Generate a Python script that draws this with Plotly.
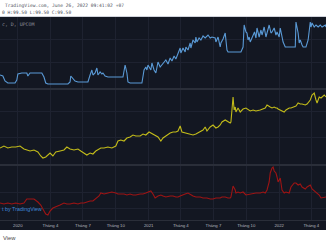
import plotly.graph_objects as go

# ---------------- data ----------------
blue_dates = ["2019-11-12","2019-11-20","2019-11-26","2019-12-04","2019-12-24","2019-12-29","2020-01-01","2020-01-12",
 "2020-01-26","2020-01-29","2020-02-04","2020-02-23","2020-03-08","2020-03-11","2020-03-14","2020-03-19","2020-03-25",
 "2020-05-20","2020-05-26","2020-05-28","2020-06-03","2020-06-09","2020-06-17","2020-07-15","2020-07-21","2020-07-26",
 "2020-07-29","2020-08-04","2020-08-09","2020-08-12","2020-08-18","2020-08-23","2020-08-26","2020-09-01","2020-09-09",
 "2020-10-21","2020-10-27","2020-11-01","2020-11-04","2020-11-10","2020-12-13","2020-12-16","2020-12-19","2020-12-24",
 "2020-12-27","2020-12-30","2021-01-07","2021-01-10","2021-01-16","2021-01-21","2021-01-24","2021-01-27","2021-02-02",
 "2021-02-10","2021-02-18","2021-02-24","2021-03-02","2021-03-07","2021-03-13","2021-03-18","2021-03-24","2021-03-27",
 "2021-03-30","2021-04-01","2021-04-07","2021-04-13","2021-04-15","2021-04-21","2021-04-27","2021-04-29","2021-05-05",
 "2021-05-11","2021-05-13","2021-05-16","2021-05-22","2021-05-27","2021-06-02","2021-06-08","2021-06-16","2021-06-22",
 "2021-06-27","2021-07-06","2021-07-08","2021-07-14","2021-07-20","2021-07-22","2021-07-28","2021-08-03","2021-08-05",
 "2021-08-08","2021-08-11","2021-09-16","2021-09-22","2021-09-25","2021-09-30","2021-10-03","2021-10-06","2021-10-09",
 "2021-10-12","2021-10-18","2021-10-24","2021-10-28","2021-10-31","2021-11-06","2021-11-11","2021-11-14","2021-11-20",
 "2021-11-25","2021-11-28","2021-12-04","2021-12-09","2021-12-12","2021-12-18","2021-12-23","2021-12-26","2022-01-01",
 "2022-01-04","2022-01-09","2022-01-12","2022-01-18","2022-02-15","2022-02-17","2022-02-23","2022-02-26","2022-03-01",
 "2022-03-06","2022-03-09","2022-03-17","2022-03-23","2022-03-29","2022-03-31","2022-04-03","2022-04-09","2022-04-14",
 "2022-04-20","2022-04-26","2022-05-01","2022-05-10","2022-05-12"]
blue_values = [13,12,7,5,5,8,14,15,
 15,12,15,15,15,13,11,5,4,
 4,6,12,10,7,6,6,13,18,
 13,15,20,13,16,14,15,12,11,
 11,23,15,6,5,5,10,18,21,
 18,23,18,25,18,15,21,26,21,
 25,28,24,30,27,32,29,34,36,
 40,35,40,36,41,38,45,40,48,
 45,51,46,50,48,52,50,53,50,
 51,50,46,51,41,45,49,55,46,
 38,36,36,41,63,56,55,48,51,
 46,51,56,50,60,51,58,53,61,
 51,56,63,55,56,60,53,56,51,
 60,50,46,41,41,66,55,45,48,
 43,41,41,48,66,61,65,61,63,
 61,63,61,63,61]

ry_dates = ["2019-11-12","2019-11-23","2019-12-04","2019-12-15","2019-12-26","2020-01-07","2020-01-18","2020-01-26",
 "2020-02-04","2020-02-15","2020-02-26","2020-03-05","2020-03-11","2020-03-19","2020-03-25","2020-03-31","2020-04-08",
 "2020-04-16","2020-04-28","2020-05-09","2020-05-17","2020-05-26","2020-06-06","2020-06-17","2020-06-25","2020-07-04",
 "2020-07-12","2020-07-21","2020-07-29","2020-08-06","2020-08-15","2020-08-20","2020-08-29","2020-09-09","2020-09-20",
 "2020-10-01","2020-10-07","2020-10-15","2020-10-24","2020-11-01","2020-11-10","2020-11-18","2020-11-26","2020-12-08",
 "2020-12-16","2020-12-24","2021-01-02","2021-01-07","2021-01-13","2021-01-19","2021-01-27","2021-02-04","2021-02-10",
 "2021-02-18","2021-03-02","2021-03-10","2021-03-18","2021-03-24","2021-03-30","2021-04-04","2021-04-13","2021-04-21",
 "2021-04-29","2021-05-05","2021-05-13","2021-05-25","2021-06-02","2021-06-08","2021-06-13","2021-06-22","2021-06-30",
 "2021-07-08","2021-07-14","2021-07-20","2021-07-25","2021-08-03","2021-08-11","2021-08-17","2021-08-19","2021-08-25",
 "2021-08-28","2021-08-31","2021-09-02","2021-09-08","2021-09-14","2021-09-22","2021-09-30","2021-10-12","2021-10-20",
 "2021-10-28","2021-11-09","2021-11-17","2021-11-23","2021-11-28","2021-12-04","2021-12-07","2021-12-12","2021-12-15",
 "2021-12-18","2021-12-23","2021-12-26","2021-12-29","2022-01-04","2022-01-06","2022-01-09","2022-01-15","2022-01-20",
 "2022-01-29","2022-02-03","2022-02-12","2022-02-17","2022-02-23","2022-03-01","2022-03-06","2022-03-15","2022-03-20",
 "2022-03-29","2022-04-03","2022-04-09","2022-04-14","2022-04-17","2022-04-23","2022-04-28","2022-05-07","2022-05-12"]
yellow_values = [16,18,16,17,17,18,15,14,
 13,14,12,8,6,7,9,11,8,
 12,13,14,17,15,14,15,13,11,
 9,11,10,13,15,16,16,17,16,
 18,23,24,23,26,27,29,28,28,
 30,29,32,31,30,29,27,23,26,
 28,31,32,32,33,38,32,31,30,
 29,29,30,32,34,37,33,37,39,
 36,37,39,42,44,42,41,42,67,
 54,57,52,56,52,55,56,53,54,
 53,54,55,56,59,57,57,56,57,
 57,56,56,55,54,54,53,52,54,
 56,56,57,58,61,60,60,59,60,
 64,69,71,64,61,67,66,69,67]
red_values = [17,16,17,16,17,16,17,21,
 21,21,18,15,11,6,5,9,12,
 13,15,17,16,16,17,16,17,17,
 18,19,19,21,24,27,26,27,28,
 27,26,26,26,25,26,25,25,26,
 26,27,28,29,26,22,24,25,24,
 23,24,24,23,23,24,25,26,27,
 25,24,23,23,22,22,22,21,21,
 22,22,22,23,23,22,22,23,34,
 32,30,27,28,27,28,25,26,27,
 27,27,28,27,30,38,47,52,53,
 49,47,43,38,42,35,30,27,28,
 27,33,37,37,35,36,33,31,33,
 35,31,29,28,27,25,22,23,23]

tick_dates = ["2020-01-01","2020-04-01","2020-07-01","2020-10-01","2021-01-01",
              "2021-04-01","2021-07-01","2021-10-01","2022-01-01","2022-04-01"]
tick_text = ["2020","Tháng 4","Tháng 7","Tháng 10","2021",
             "Tháng 4","Tháng 7","Tháng 10","2022","Tháng 4"]

# ---------------- figure ----------------
W, H = 326, 245
BG = "#131722"
GRID = "#1e2230"
SEP = "#2a2e39"

def py(p):  # pixel row -> paper fraction
    return 1 - p / H

fig = go.Figure()
fig.add_trace(go.Scatter(x=blue_dates, y=blue_values, mode="lines",
                         line=dict(color="#5a9ad6", width=1.1), xaxis="x", yaxis="y"))
fig.add_trace(go.Scatter(x=ry_dates, y=yellow_values, mode="lines",
                         line=dict(color="#c2bb1a", width=1.1), xaxis="x", yaxis="y2"))
fig.add_trace(go.Scatter(x=ry_dates, y=red_values, mode="lines",
                         line=dict(color="#9e1414", width=1.1), xaxis="x", yaxis="y3"))

yax_common = dict(showticklabels=False, zeroline=False, showline=False, ticks="",
                  showgrid=True, gridcolor=GRID, gridwidth=1, fixedrange=True)

fig.update_layout(
    width=W, height=H, margin=dict(l=0, r=0, t=0, b=0),
    paper_bgcolor="white", plot_bgcolor=BG, showlegend=False,
    xaxis=dict(domain=[0, 1], anchor="y3", type="date",
               range=["2019-11-12", "2022-05-12"],
               tickvals=tick_dates, ticktext=tick_text,
               tickfont=dict(size=4.3, color="#b2b5be", family="Liberation Sans"),
               showgrid=True, gridcolor=GRID, gridwidth=1,
               zeroline=False, showline=False, ticks="", ticklabelstandoff=2),
    yaxis=dict(domain=[py(88), py(17)], range=[0, 71], tickvals=[26, 49], **yax_common),
    yaxis2=dict(domain=[py(164), py(90)], range=[0, 74], tickvals=[27, 53], **yax_common),
    yaxis3=dict(domain=[py(220), py(166)], range=[0, 54], tickvals=[12, 28], **yax_common),
    shapes=[
        dict(type="rect", xref="paper", yref="paper", x0=0, x1=1, y0=py(230), y1=py(17),
             fillcolor=BG, line=dict(width=0), layer="below"),
        dict(type="rect", xref="paper", yref="paper", x0=0, x1=1, y0=py(90), y1=py(88),
             fillcolor=SEP, line=dict(width=0), layer="below"),
        dict(type="rect", xref="paper", yref="paper", x0=0, x1=1, y0=py(166), y1=py(164),
             fillcolor=SEP, line=dict(width=0), layer="below"),
        dict(type="line", xref="paper", yref="paper", x0=0, x1=1, y0=py(220.5), y1=py(220.5),
             line=dict(color=SEP, width=1), layer="above"),
        dict(type="line", xref="paper", yref="paper", x0=0, x1=1, y0=py(16.5), y1=py(16.5),
             line=dict(color="#d1d4dc", width=1), layer="above"),
    ],
)

mono = "DejaVu Sans Mono"
ann = [
    dict(text="TradingView.com, June 26, 2022 09:41:02 +07", x=3 / W, y=py(5.5),
         font=dict(size=4.6, color="#50535e", family=mono)),
    dict(text="0 H:99.50 L:99.50 C:99.50", x=0, y=py(12.5),
         font=dict(size=4.6, color="#50535e", family=mono)),
    dict(text="c, D, UPCOM", x=0, y=py(24),
         font=dict(size=4.9, color="#8f929b", family=mono)),
    dict(text="t by TradingView", x=0, y=py(208.5),
         font=dict(size=5.4, color="#3d86d8", family="Liberation Sans")),
    dict(text="View", x=1 / W, y=py(238),
         font=dict(size=5.8, color="#4a4a4a", family="Liberation Sans")),
]
for a in ann:
    fig.add_annotation(xref="paper", yref="paper", xanchor="left", yanchor="middle",
                       showarrow=False, **a)

fig.write_html("out.html")
